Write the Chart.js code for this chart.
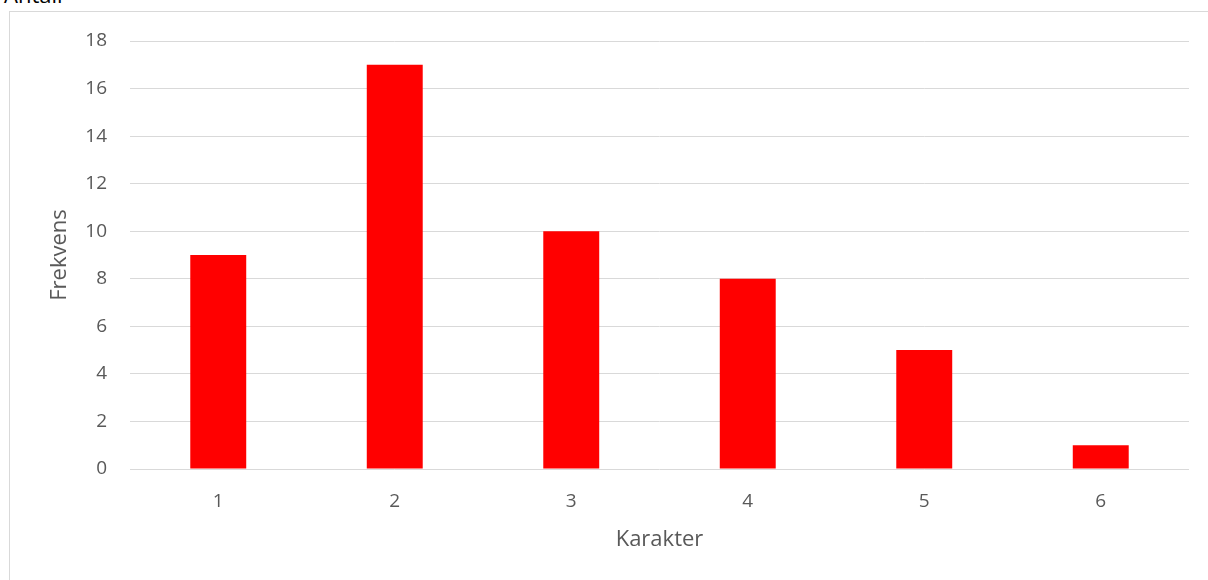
<!DOCTYPE html>
<html><head><meta charset="utf-8">
<script src="https://cdn.jsdelivr.net/npm/chart.js@4"></script>
<style>
html,body{margin:0;padding:0;background:#fff;overflow:hidden;}
#wrap{position:relative;width:1208px;height:580px;}
#frame{position:absolute;left:9px;top:11px;width:1210px;height:600px;border:1px solid #d9d9d9;box-sizing:border-box;}
#title{position:absolute;left:4px;top:-17px;font:22px/22px "Open Sans",sans-serif;color:#000;}
canvas{position:absolute;left:0;top:0;}
</style></head><body>
<div id="wrap">
<div id="title">Antall</div>
<div id="frame"></div>
<canvas id="c" width="1208" height="580"></canvas>
</div>
<script>
const categories = ["1","2","3","4","5","6"];
const frequencies = [9,17,10,8,5,1];
const yTicks = [0,2,4,6,8,10,12,14,16,18];
const xTitle = "Karakter";
const yTitle = "Frekvens";

const FONT = '"Open Sans", sans-serif';
const TXT = '#595959';
new Chart(document.getElementById('c'), {
  type: 'bar',
  data: { labels: categories, datasets: [{ data: frequencies, backgroundColor: '#ff0000', borderWidth: 0, barPercentage: 0.317, categoryPercentage: 1 }] },
  options: {
    responsive: false, animation: false,
    layout: { padding: { left: 10, right: 19, top: 41, bottom: 11 } },
    plugins: { legend: { display: false }, tooltip: { enabled: false } },
    scales: {
      x: {
        grid: { display: false }, border: { display: false },
        ticks: { color: TXT, font: { family: FONT, size: 19 }, padding: 13 },
        title: { display: true, text: xTitle, color: TXT, font: { family: FONT, size: 22 }, padding: { top: 8, bottom: 16 } },
        afterFit: s => { s.height = 100; }
      },
      y: {
        min: 0, max: 18,
        afterBuildTicks: s => { s.ticks = yTicks.map(v => ({ value: v })); },
        grid: { color: '#d9d9d9', drawTicks: false, lineWidth: 1 }, border: { display: false },
        ticks: { color: TXT, font: { family: FONT, size: 19 }, padding: 23 },
        title: { display: true, text: yTitle, color: TXT, font: { family: FONT, size: 22 }, padding: { top: 37, bottom: 0 } },
        afterFit: s => { s.width = 120; }
      }
    }
  }
});
</script>
</body></html>
